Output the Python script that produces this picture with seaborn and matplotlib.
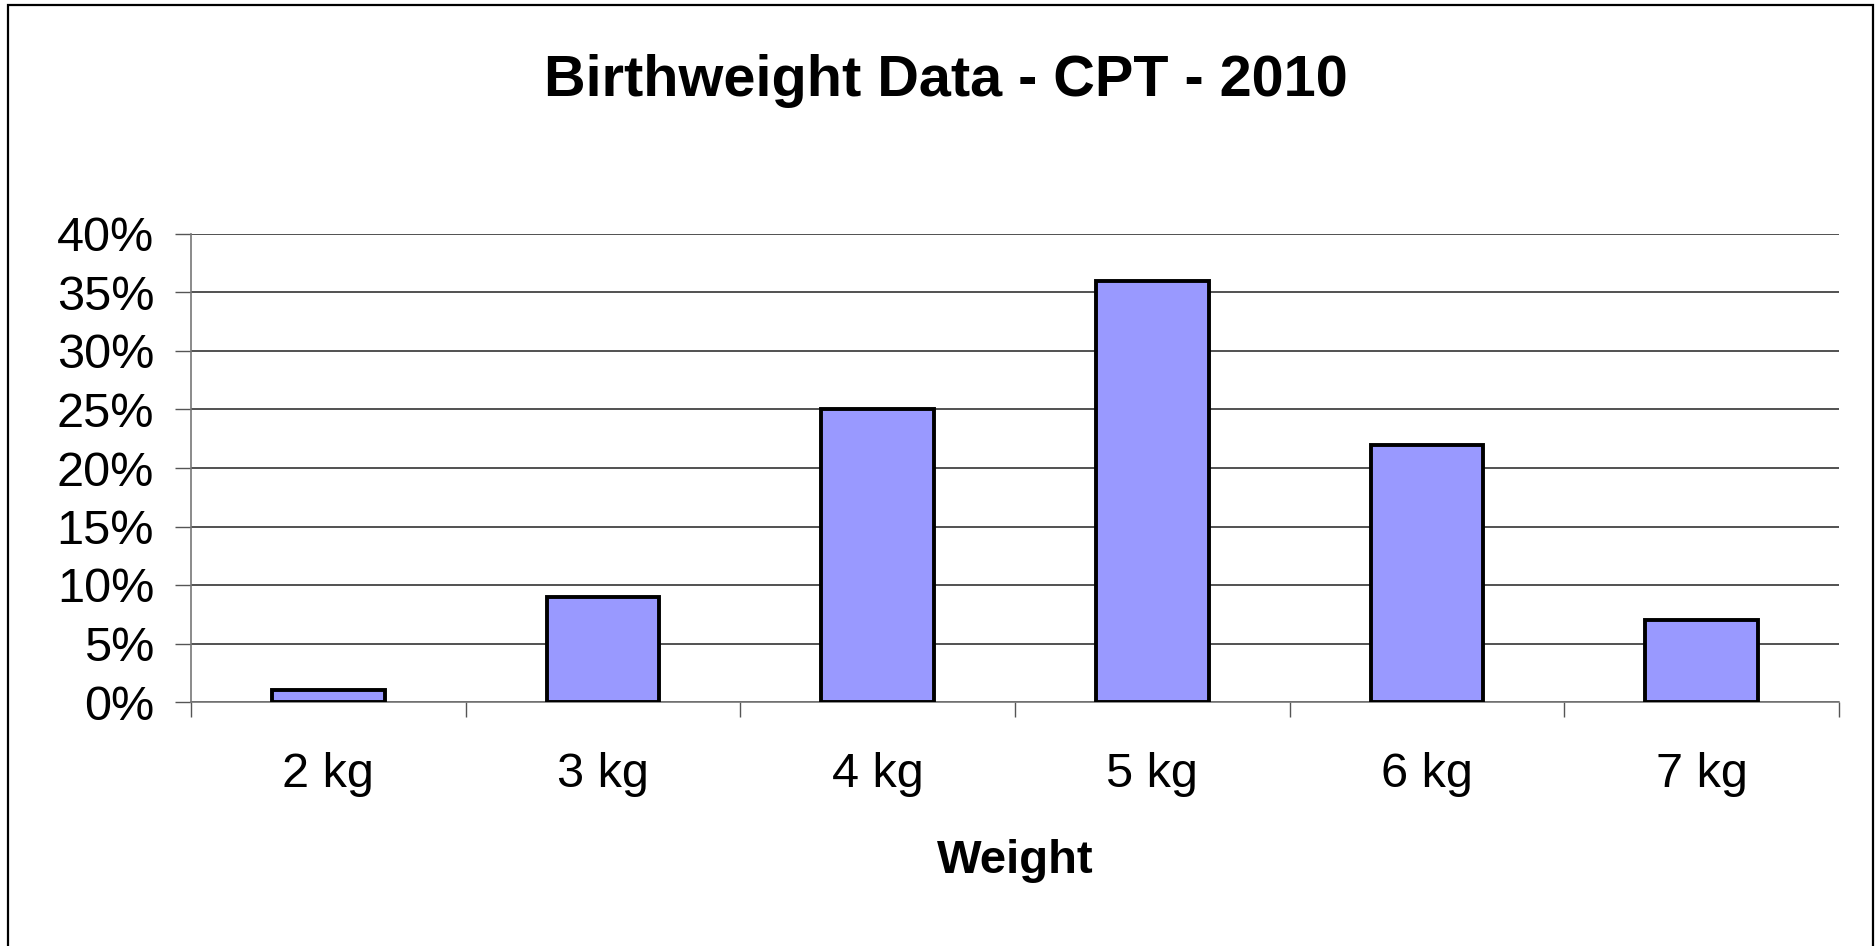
import matplotlib
matplotlib.use("Agg")
import matplotlib.pyplot as plt
import seaborn as sns
import pandas as pd
from matplotlib.patches import Rectangle
from matplotlib.ticker import FixedLocator, PercentFormatter

categorias = ["2 kg", "3 kg", "4 kg", "5 kg", "6 kg", "7 kg"]
porcentajes = [1, 9, 25, 36, 22, 7]

df = pd.DataFrame({"Weight": categorias, "Percent": porcentajes})

sns.set_style("white")
plt.rcParams["font.family"] = ["Liberation Sans", "DejaVu Sans"]
plt.rcParams["text.color"] = "black"
plt.rcParams["xtick.color"] = "black"
plt.rcParams["ytick.color"] = "black"
plt.rcParams["axes.labelcolor"] = "black"

fig = plt.figure(figsize=(18.75, 9.46), dpi=100)
ax = fig.add_axes([191 / 1875, 1 - 702 / 946, (1839 - 191) / 1875, (702 - 234) / 946])

sns.barplot(data=df, x="Weight", y="Percent", color="#9999FF", edgecolor="black",
            linewidth=2.8, width=0.41, saturation=1, ax=ax, zorder=3)

ax.set_xlim(-0.5, len(categorias) - 0.5)
ax.set_ylim(0, 40)
ax.set_yticks(range(0, 41, 5))
ax.yaxis.set_major_formatter(PercentFormatter(decimals=0))
ax.grid(axis="y", color="#222222", linewidth=1.1, zorder=0)
ax.set_axisbelow(True)

for lado in ["top", "right"]:
    ax.spines[lado].set_visible(False)
ax.spines["left"].set_color("#777777")
ax.spines["bottom"].set_color("#777777")
ax.spines["left"].set_linewidth(1.2)
ax.spines["bottom"].set_linewidth(1.2)

ax.tick_params(axis="y", which="major", length=11.5, width=1, color="#555555",
               labelsize=35, pad=15, left=True, labelcolor="black")
ax.xaxis.set_minor_locator(FixedLocator([i - 0.5 for i in range(len(categorias) + 1)]))
ax.tick_params(axis="x", which="minor", length=11, width=1, color="#555555", bottom=True)
ax.tick_params(axis="x", which="major", length=0, labelsize=35, pad=36, labelcolor="black")

ax.set_xlabel("Weight", fontsize=34, fontweight="bold", labelpad=30, color="black")
ax.set_ylabel("")

fig.text(946 / 1875, 1 - 81 / 946, "Birthweight Data - CPT - 2010", ha="center", va="center",
         fontsize=41.5, fontweight="bold", color="black")

fig.patches.append(Rectangle((8 / 1875, -0.05), (1873 - 8) / 1875, 1 - 5 / 946 + 0.05,
                             transform=fig.transFigure, fill=False, edgecolor="black",
                             linewidth=1.6))

fig.savefig("out.png", dpi=100)
